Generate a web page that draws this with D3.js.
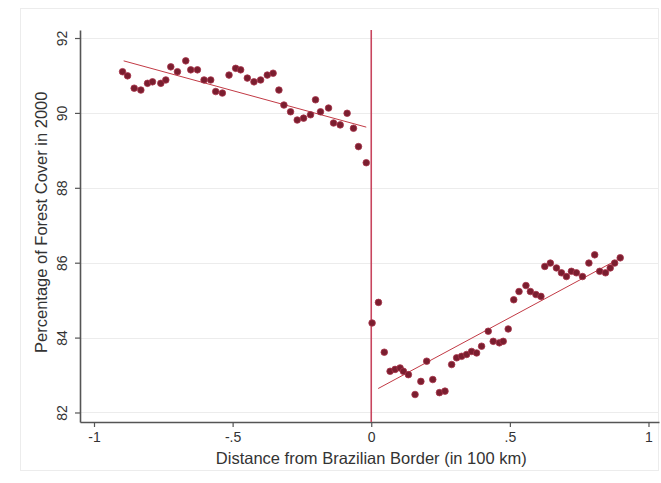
<!DOCTYPE html>
<html>
<head>
<meta charset="utf-8">
<script src="https://cdn.jsdelivr.net/npm/d3@7"></script>
<style>
  body { margin: 0; background: #fff; }
  text { font-family: "Liberation Sans", Arial, sans-serif; fill: #333; }
</style>
</head>
<body>
<div id="chart"></div>
<script>
// distance from border (100 km) and forest cover (%)
var leftX = [-0.897, -0.879, -0.855, -0.831, -0.807, -0.789, -0.759, -0.741, -0.723, -0.699,
    -0.669, -0.651, -0.627, -0.603, -0.579, -0.561, -0.537, -0.513, -0.489, -0.471,
    -0.447, -0.423, -0.399, -0.375, -0.354, -0.333, -0.315, -0.291, -0.267, -0.244,
    -0.219, -0.201, -0.183, -0.154, -0.136, -0.112, -0.087, -0.064, -0.046, -0.018];
var leftY = [91.10, 90.99, 90.66, 90.61, 90.79, 90.83, 90.79, 90.88, 91.23, 91.10,
    91.39, 91.15, 91.15, 90.88, 90.88, 90.57, 90.53, 91.01, 91.19, 91.15,
    90.93, 90.83, 90.88, 91.01, 91.06, 90.61, 90.21, 90.03, 89.81, 89.86,
    89.95, 90.35, 90.03, 90.13, 89.73, 89.68, 89.99, 89.59, 89.10, 88.67];

var rightX = [0.003, 0.026, 0.047, 0.068, 0.086, 0.104, 0.116, 0.134, 0.158, 0.179,
    0.200, 0.222, 0.246, 0.266, 0.290, 0.308, 0.326, 0.344, 0.362, 0.380,
    0.398, 0.422, 0.440, 0.462, 0.476, 0.494, 0.514, 0.533, 0.558, 0.574,
    0.594, 0.612, 0.626, 0.646, 0.668, 0.686, 0.704, 0.722, 0.740, 0.762,
    0.785, 0.806, 0.824, 0.845, 0.862, 0.878, 0.898];
var rightY = [84.39, 84.94, 83.61, 83.10, 83.15, 83.19, 83.10, 83.01, 82.48, 82.83,
    83.37, 82.88, 82.53, 82.57, 83.28, 83.46, 83.50, 83.55, 83.63, 83.59,
    83.77, 84.17, 83.90, 83.86, 83.90, 84.23, 85.01, 85.23, 85.39, 85.23,
    85.15, 85.10, 85.90, 85.99, 85.86, 85.73, 85.63, 85.77, 85.73, 85.63,
    85.99, 86.21, 85.77, 85.73, 85.86, 85.99, 86.13];

// linear fits on each side (end points)
var leftFitX = [-0.893, -0.018];
var leftFitY = [91.39, 89.62];
var rightFitX = [0.025, 0.888];
var rightFitY = [82.64, 86.08];

var xTicks = [-1, -0.5, 0, 0.5, 1];
var xTickLabels = ["-1", "-.5", "0", ".5", "1"];
var yTicks = [82, 84, 86, 88, 90, 92];

var svgWidth = 661;
var svgHeight = 483;

var margin = {
    top: 30,
    right: 2,
    bottom: 61,
    left: 80
};

var width = svgWidth - margin.left - margin.right;
var height = svgHeight - margin.top - margin.bottom;

var svg = d3.select("#chart")
    .append("svg")
    .attr("width", svgWidth)
    .attr("height", svgHeight);

// faint outer graph region border
svg.append("rect")
    .attr("x", 20.5)
    .attr("y", 8.5)
    .attr("width", 638)
    .attr("height", 462)
    .attr("fill", "none")
    .attr("stroke", "#ececec");

var chartGroup = svg.append("g")
    .attr("transform", `translate(${margin.left}, ${margin.top})`);

var xScale = d3.scaleLinear()
    .domain([-1.0505, 1.0379])
    .range([0, width]);

var yScale = d3.scaleLinear()
    .domain([81.746, 92.214])
    .range([height, 0]);

// horizontal grid
chartGroup.selectAll(".grid")
    .data(yTicks)
    .enter()
    .append("line")
    .attr("x1", 0)
    .attr("x2", width)
    .attr("y1", d => Math.round(yScale(d)) + 0.5)
    .attr("y2", d => Math.round(yScale(d)) + 0.5)
    .attr("stroke", "#ececec")
    .attr("stroke-width", 1);

// axes
var bottomAxis = d3.axisBottom(xScale)
    .tickValues(xTicks)
    .tickFormat((d, i) => xTickLabels[i])
    .tickSize(5)
    .tickSizeOuter(0);
var leftAxis = d3.axisLeft(yScale)
    .tickValues(yTicks)
    .tickSize(5)
    .tickSizeOuter(0);

var xAxisG = chartGroup.append("g")
    .attr("transform", `translate(0, ${height})`)
    .call(bottomAxis);
var yAxisG = chartGroup.append("g")
    .call(leftAxis);

[xAxisG, yAxisG].forEach(function(g) {
    g.select(".domain").attr("stroke", "#555").attr("stroke-width", 1.6);
    g.selectAll(".tick line").attr("stroke", "#555").attr("stroke-width", 1.2);
    g.selectAll(".tick text")
        .attr("font-family", "Liberation Sans, Arial, sans-serif")
        .attr("font-size", 14)
        .attr("fill", "#444");
});
xAxisG.selectAll(".tick text").attr("dy", "0.85em");
yAxisG.selectAll(".tick text")
    .attr("text-anchor", "middle")
    .attr("x", 0)
    .attr("dy", 0)
    .attr("transform", "translate(-13, 0) rotate(-90)");

// border line at zero
chartGroup.append("line")
    .attr("x1", xScale(0))
    .attr("x2", xScale(0))
    .attr("y1", 0)
    .attr("y2", height)
    .attr("stroke", "#c8455e")
    .attr("stroke-width", 1.6);

// fitted lines
[[leftFitX, leftFitY], [rightFitX, rightFitY]].forEach(function(f) {
    chartGroup.append("line")
        .attr("x1", xScale(f[0][0]))
        .attr("y1", yScale(f[1][0]))
        .attr("x2", xScale(f[0][1]))
        .attr("y2", yScale(f[1][1]))
        .attr("stroke", "#c23a45")
        .attr("stroke-width", 1);
});

// points
var points = leftX.map((x, i) => ({x: x, y: leftY[i]}))
    .concat(rightX.map((x, i) => ({x: x, y: rightY[i]})));

chartGroup.selectAll("circle")
    .data(points)
    .enter()
    .append("circle")
    .attr("cx", d => xScale(d.x))
    .attr("cy", d => yScale(d.y))
    .attr("r", 3.3)
    .attr("fill", "#7a1e2f")
    .attr("stroke", "#a8344a")
    .attr("stroke-width", 0.8);

// axis titles
chartGroup.append("text")
    .attr("transform", "rotate(-90)")
    .attr("x", -(yScale(87) - 3))
    .attr("y", -33)
    .attr("text-anchor", "middle")
    .attr("font-size", 16.5)
    .attr("fill", "#444")
    .text("Percentage of Forest Cover in 2000");

chartGroup.append("text")
    .attr("x", xScale(0))
    .attr("y", height + 42)
    .attr("text-anchor", "middle")
    .attr("font-size", 16.5)
    .attr("fill", "#444")
    .text("Distance from Brazilian Border (in 100 km)");
</script>
</body>
</html>
